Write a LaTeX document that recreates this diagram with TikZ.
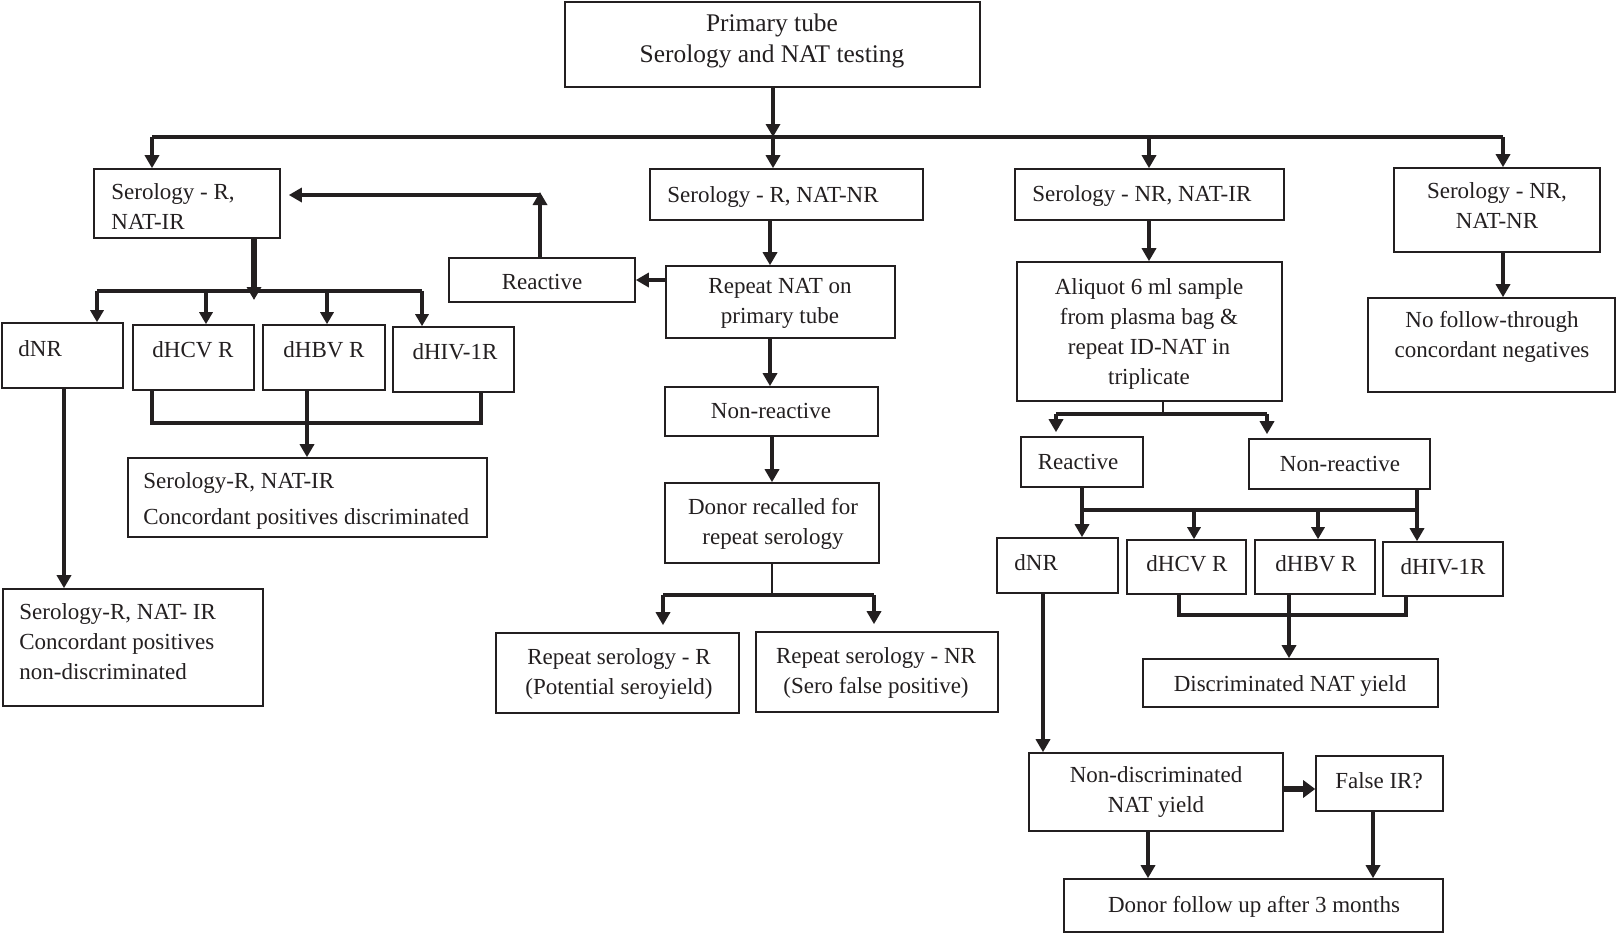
\documentclass[tikz,border=0pt]{standalone}
\usepackage{fontspec}
\setmainfont{Liberation Serif}
\usetikzlibrary{arrows.meta}
\definecolor{ink}{RGB}{35,31,32}
\newcommand\bx[5]{%
 \pgfmathsetlengthmacro\bxw{(#4-#2)*0.5pt}%
 \pgfmathsetlengthmacro\bxh{(#5-#3)*0.5pt}%
 \node[bx,minimum width=\bxw,minimum height=\bxh] (#1) at ({(#2+#4)/2},{(#3+#5)/2}) {};}
\newcommand\tx[6]{\node[tx,anchor=#4,align=#5] (#1) at (#2,#3) {#6};}
\begin{document}
\begin{tikzpicture}[x=0.5pt,y=-0.5pt,
  bx/.style={draw=ink,line width=0.8pt,rectangle,inner sep=0pt},
  tx/.style={inner sep=0pt,text=ink,font=\fontsize{11.5}{15}\selectfont,yshift=-1.8pt,
     execute at begin node=\strut,execute at end node=\strut},
  ln/.style={draw=ink,line width=2.2pt},
  lnm/.style={draw=ink,line width=1.7pt},
  lns/.style={draw=ink,line width=1.2pt},
  ar/.style={ln,-{Triangle[length=6.5pt,width=7pt]}},
  arm/.style={lnm,-{Triangle[length=6pt,width=6.5pt]}}]
\useasboundingbox[fill=white] (0,0) rectangle (1617,934);
% boxes
\bx{P}{565}{2}{980}{87}
\bx{A}{94}{169}{280}{238}
\bx{B}{650}{169}{923}{220}
\bx{C}{1015}{169}{1284}{220}
\bx{D}{1394}{168}{1600}{252}
\bx{RL}{449}{258}{635}{302}
\bx{RN}{666}{266}{895}{338}
\bx{dNR}{2}{323}{123}{388}
\bx{HCV}{133}{325}{254}{390}
\bx{HBV}{263}{325}{385}{390}
\bx{HIV}{393}{327}{514}{392}
\bx{NRc}{665}{387}{878}{436}
\bx{CPD}{128}{458}{487}{537}
\bx{CPN}{3}{589}{263}{706}
\bx{DR}{665}{483}{879}{563}
\bx{RSR}{496}{633}{739}{713}
\bx{RSN}{756}{632}{998}{712}
\bx{Al}{1017}{262}{1282}{401}
\bx{NF}{1368}{298}{1615}{392}
\bx{Rr}{1021}{437}{1143}{487}
\bx{NRr}{1249}{439}{1430}{489}
\bx{dNRb}{997}{538}{1118}{593}
\bx{HCVb}{1127}{540}{1246}{594}
\bx{HBVb}{1255}{540}{1375}{594}
\bx{HIVb}{1383}{542}{1503}{596}
\bx{DNY}{1143}{659}{1438}{707}
\bx{NDN}{1029}{753}{1283}{831}
\bx{FIR}{1316}{756}{1443}{811}
\bx{DF}{1064}{879}{1443}{932}
% texts
\node[tx,font=\fontsize{12.7}{15.5}\selectfont,align=center] (tP) at (772,39) {Primary tube\\Serology and NAT testing};
\tx{tA}{111}{207}{west}{left}{Serology - R,\\NAT-IR}
\tx{tB}{667}{193}{west}{left}{Serology - R, NAT-NR}
\tx{tC}{1032}{192}{west}{left}{Serology - NR, NAT-IR}
\tx{tD}{1497}{206}{center}{center}{Serology - NR,\\NAT-NR}
\tx{tRL}{542}{280}{center}{center}{Reactive}
\tx{tRN}{780}{302}{center}{center}{Repeat NAT on\\primary tube}
\tx{tdNR}{18}{347}{west}{left}{dNR}
\tx{tHCV}{193}{348}{center}{center}{dHCV R}
\tx{tHBV}{324}{348}{center}{center}{dHBV R}
\tx{tHIV}{455}{350}{center}{center}{dHIV-1R}
\tx{tNRc}{771}{409}{center}{center}{Non-reactive}
\tx{tCPD}{143}{499}{west}{left}{Serology-R, NAT-IR\\[3pt]Concordant positives discriminated}
\tx{tCPN}{19}{642}{west}{left}{Serology-R, NAT- IR\\Concordant positives\\non-discriminated}
\tx{tDR}{773}{522}{center}{center}{Donor recalled for\\repeat serology}
\tx{tRSR}{619}{672}{center}{center}{Repeat serology - R\\(Potential seroyield)}
\tx{tRSN}{876}{671}{center}{center}{Repeat serology - NR\\(Sero false positive)}
\tx{tAl}{1149}{332}{center}{center}{Aliquot 6 ml sample\\from plasma bag \&\\repeat ID-NAT in\\triplicate}
\tx{tNF}{1492}{335}{center}{center}{No follow-through\\concordant negatives}
\tx{tRr}{1078}{460}{center}{center}{Reactive}
\tx{tNRr}{1340}{462}{center}{center}{Non-reactive}
\tx{tdNRb}{1014}{561}{west}{left}{dNR}
\tx{tHCVb}{1187}{562}{center}{center}{dHCV R}
\tx{tHBVb}{1316}{562}{center}{center}{dHBV R}
\tx{tHIVb}{1443}{565}{center}{center}{dHIV-1R}
\tx{tDNY}{1290}{682}{center}{center}{Discriminated NAT yield}
\tx{tNDN}{1156}{790}{center}{center}{Non-discriminated\\NAT yield}
\tx{tFIR}{1379}{779}{center}{center}{False IR?}
\tx{tDF}{1254}{903}{center}{center}{Donor follow up after 3 months}
% helper coordinates
\coordinate (j0) at (773,137);
\coordinate (jL) at (152,137);
\coordinate (jC) at (1149,137);
\coordinate (jR) at (1503,137);
\coordinate (xB) at (770,0);
\coordinate (kUp) at (540,195);
\coordinate (jAt) at (254,300);
\coordinate (b1) at (97,291);
\coordinate (b2) at (206,291);
\coordinate (b3) at (327,291);
\coordinate (b4) at (422,291);
\coordinate (q1) at (152,423);
\coordinate (q2) at (481,423);
\coordinate (q3) at (307,0);
\coordinate (q4) at (64,0);
\coordinate (xD) at (772,0);
\coordinate (s1) at (663,595);
\coordinate (s2) at (874,595);
\coordinate (xAl) at (1163,414);
\coordinate (a1) at (1056,414);
\coordinate (a2) at (1267,414);
\coordinate (r1) at (1082,510);
\coordinate (r2) at (1194,510);
\coordinate (r3) at (1318,510);
\coordinate (r4) at (1417,510);
\coordinate (u1) at (1179,615);
\coordinate (u2) at (1406,615);
\coordinate (u3) at (1289,0);
\coordinate (u4) at (1043,0);
\coordinate (yF) at (0,789);
\coordinate (v1) at (1148,0);
\coordinate (v2) at (1373,0);
% connectors
\draw[ar] (P.south -| j0) -- (j0);
\draw[ln] (jL) -- (jR);
\draw[ar] (jL) -- (jL |- A.north);
\draw[ar] (j0) -- (j0 |- B.north);
\draw[ar] (jC) -- (jC |- C.north);
\draw[ar] (jR) -- (jR |- D.north);
\draw[ar] (B.south -| xB) -- (RN.north -| xB);
\draw[ar] (RN.west |- RL.east) -- (RL.east);
\draw[ar] (RL.north -| kUp) -- ([yshift=1.5pt]kUp);
\draw[ar,shorten >=4pt] (kUp) -- (A.east |- kUp);
\draw[ar,line width=2.6pt] (A.south -| jAt) -- (jAt);
\draw[lnm] (b1) -- (b4);
\draw[arm] (b1) -- (b1 |- dNR.north);
\draw[arm] (b2) -- (b2 |- HCV.north);
\draw[arm] (b3) -- (b3 |- HBV.north);
\draw[arm] (b4) -- (b4 |- HIV.north);
\draw[lnm] (HCV.south -| q1) -- (q1) -- (q2) -- (HIV.south -| q2);
\draw[ar] (HBV.south -| q3) -- (CPD.north -| q3);
\draw[ar] (dNR.south -| q4) -- (CPN.north -| q4);
\draw[ar] (RN.south -| xB) -- (NRc.north -| xB);
\draw[ar] (NRc.south -| xD) -- (DR.north -| xD);
\draw[lns] (DR.south -| xD) -- (xD |- s1);
\draw[ln] (s1) -- (s2);
\draw[ar,shorten >=3.5pt] (s1) -- (s1 |- RSR.north);
\draw[ar,shorten >=3.5pt] (s2) -- (s2 |- RSN.north);
\draw[ar] (C.south -| jC) -- (Al.north -| jC);
\draw[ar] (D.south -| jR) -- (NF.north -| jR);
\draw[lns] (Al.south -| xAl) -- (xAl);
\draw[ln] (a1) -- (a2);
\draw[ar,shorten >=2pt] (a1) -- (a1 |- Rr.north);
\draw[ar,shorten >=2pt] (a2) -- (a2 |- NRr.north);
\draw[ar] (Rr.south -| r1) -- (dNRb.north -| r1);
\draw[ar] (NRr.south -| r4) -- (HIVb.north -| r4);
\draw[ln] (r1) -- (r4);
\draw[arm] (r2) -- (r2 |- HCVb.north);
\draw[arm] (r3) -- (r3 |- HBVb.north);
\draw[lnm] (HCVb.south -| u1) -- (u1) -- (u2) -- (HIVb.south -| u2);
\draw[ar] (HBVb.south -| u3) -- (DNY.north -| u3);
\draw[ar] (dNRb.south -| u4) -- (NDN.north -| u4);
\draw[ar,line width=3pt,-{Triangle[length=6pt,width=8.5pt]}] (NDN.east |- yF) -- (FIR.west |- yF);
\draw[ar] (NDN.south -| v1) -- (DF.north -| v1);
\draw[ar] (FIR.south -| v2) -- (DF.north -| v2);
\end{tikzpicture}
\end{document}
